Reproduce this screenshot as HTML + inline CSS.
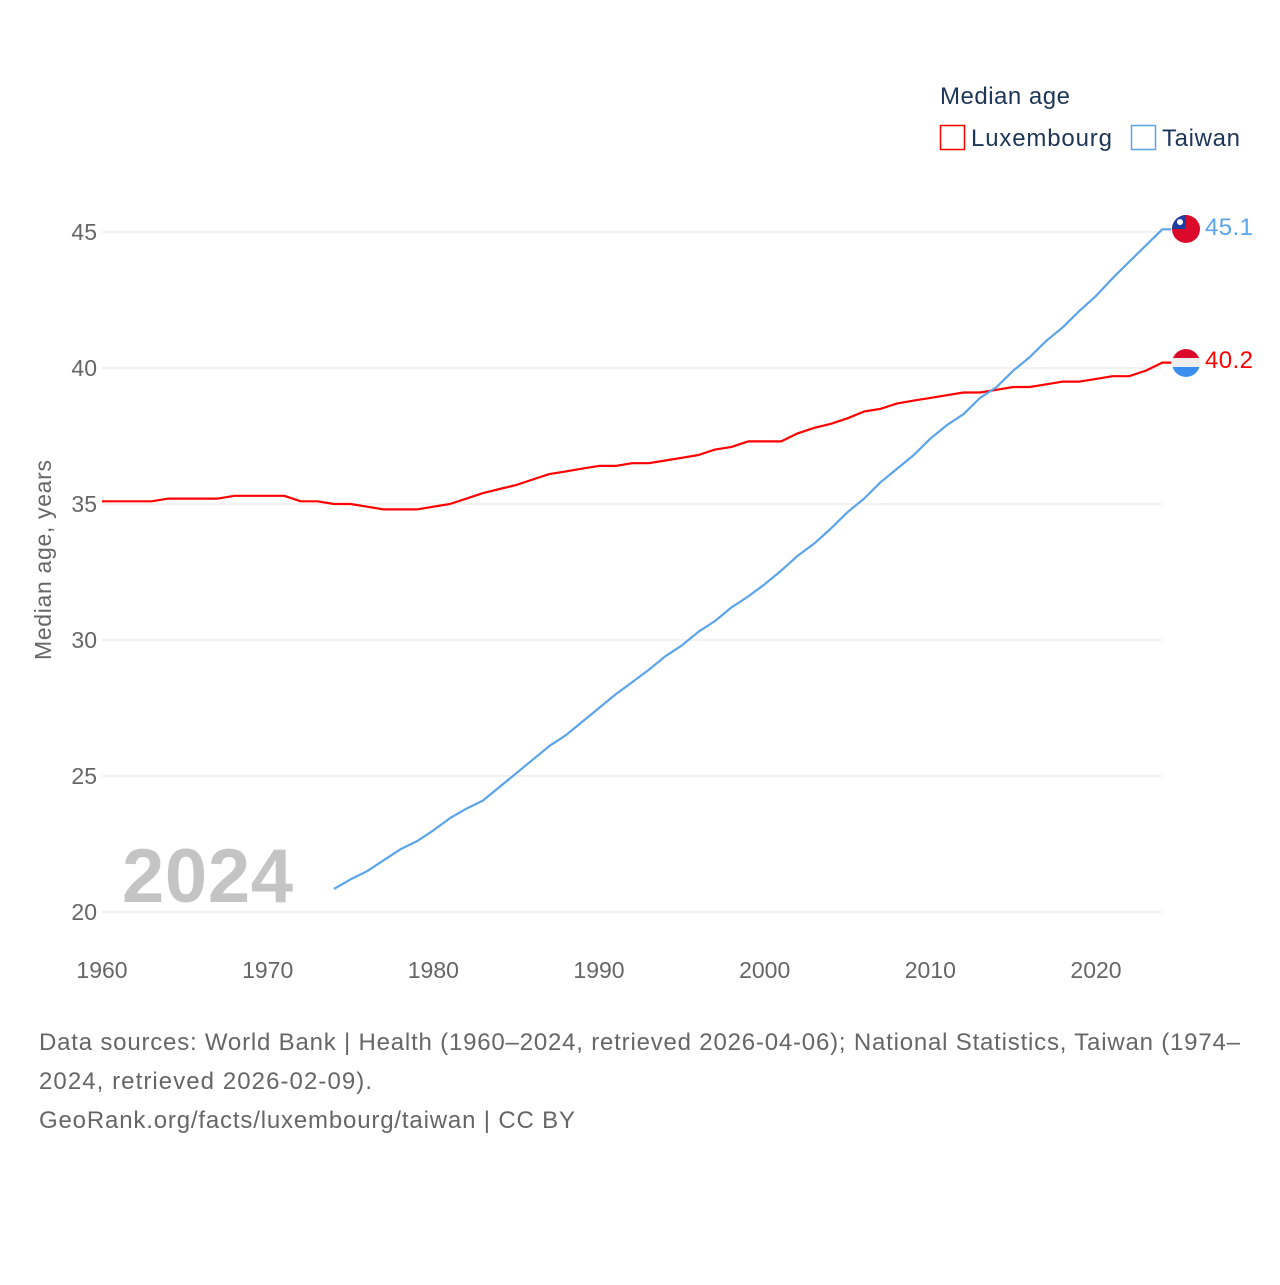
<!DOCTYPE html>
<html><head><meta charset="utf-8"><style>
body{margin:0;background:#fff;font-family:"Liberation Sans",sans-serif}
</style></head><body>
<svg id="chart" width="1280" height="1280" xmlns="http://www.w3.org/2000/svg" style="font-family:'Liberation Sans',sans-serif">
<defs>
<clipPath id="c1"><circle cx="1186" cy="229" r="14"/></clipPath>
<clipPath id="c2"><circle cx="1186" cy="363" r="14"/></clipPath>
</defs>
<g>
<text x="940" y="104" font-size="24" fill="#1d3557" textLength="130">Median age</text>
<g><rect x="940.5" y="125.5" width="24" height="24" fill="none" stroke="#ff0000" stroke-width="1.5"/><text x="971" y="146" font-size="24" fill="#1d3557" textLength="141">Luxembourg</text></g>
<g><rect x="1131.5" y="125.5" width="24" height="24" fill="none" stroke="#5ba4ea" stroke-width="1.5"/><text x="1162" y="146" font-size="24" fill="#1d3557" textLength="78">Taiwan</text></g>
</g>
<g id="grid"></g>
<g id="yticks"></g>
<g id="xticks"></g>
<text transform="translate(51,560) rotate(-90)" text-anchor="middle" font-size="23" fill="#666" textLength="200">Median age, years</text>
<text x="122" y="902" font-size="76" font-weight="bold" fill="#c4c4c4" textLength="171">2024</text>
<g id="series"></g>
<g clip-path="url(#c1)">
<rect x="1172" y="215" width="28" height="28" fill="#dc0a2a"/><rect x="1172" y="215" width="14" height="14" fill="#1e3fa0"/><circle cx="1180" cy="222" r="3" fill="#fff"/></g>
<g clip-path="url(#c2)">
<rect x="1172" y="349" width="28" height="10" fill="#dc0a2a"/><rect x="1172" y="358" width="28" height="10" fill="#eee"/><rect x="1172" y="367" width="28" height="10" fill="#3a8eed"/></g>
<text x="1205" y="235" font-size="24" fill="#5ba4ea" textLength="48">45.1</text>
<text x="1205" y="368" font-size="24" fill="#ff0000" textLength="48">40.2</text>
<g font-size="24" fill="#666">
<text x="39" y="1050" textLength="1201">Data sources: World Bank | Health (1960–2024, retrieved 2026-04-06); National Statistics, Taiwan (1974–</text>
<text x="39" y="1089" textLength="333">2024, retrieved 2026-02-09).</text>
<text x="39" y="1128" textLength="536">GeoRank.org/facts/luxembourg/taiwan | CC BY</text>
</g>
</svg>
<script>
const yTicks=[20,25,30,35,40,45];
const xTicks=[1960,1970,1980,1990,2000,2010,2020];
const luxStart=1960;
const luxValues=[35.1,35.1,35.1,35.1,35.2,35.2,35.2,35.2,35.3,35.3,35.3,35.3,35.1,35.1,35.0,35.0,34.9,34.8,34.8,34.8,34.9,35.0,35.2,35.4,35.55,35.7,35.9,36.1,36.2,36.3,36.4,36.4,36.5,36.5,36.6,36.7,36.8,37.0,37.1,37.3,37.3,37.3,37.6,37.8,37.95,38.15,38.4,38.5,38.7,38.8,38.9,39.0,39.1,39.1,39.2,39.3,39.3,39.4,39.5,39.5,39.6,39.7,39.7,39.9,40.2];
const twStart=1974;
const twValues=[20.85,21.2,21.5,21.9,22.3,22.6,23.0,23.45,23.8,24.1,24.6,25.1,25.6,26.1,26.5,27.0,27.5,28.0,28.45,28.9,29.4,29.8,30.3,30.7,31.2,31.6,32.05,32.55,33.1,33.55,34.1,34.7,35.2,35.8,36.3,36.8,37.4,37.9,38.3,38.9,39.3,39.9,40.4,41.0,41.5,42.1,42.65,43.3,43.9,44.5,45.1];
const X=y=>102+(y-1960)*(1096-102)/60;
const Y=v=>912-(v-20)*(912-232)/25;
const NS="http://www.w3.org/2000/svg";
function mk(tag,attrs,parent){const e=document.createElementNS(NS,tag);for(const k in attrs)e.setAttribute(k,attrs[k]);parent.appendChild(e);return e;}
const grid=document.getElementById('grid'),yt=document.getElementById('yticks'),xt=document.getElementById('xticks'),ser=document.getElementById('series');
yTicks.forEach(v=>{
 const l=mk('line',{x1:102,x2:1162,y1:Y(v),y2:Y(v),stroke:'#e6e6e6','stroke-width':1},grid);
 
 
 const t=mk('text',{x:97,y:Y(v)+8,'text-anchor':'end','font-size':23,fill:'#666'},yt);
 t.textContent=v;
 
 
});
xTicks.forEach(v=>{
 const t=mk('text',{x:X(v),y:978,'text-anchor':'middle','font-size':23,fill:'#666'},xt);
 t.textContent=v;
 
 
});
function line(start,vals,color,name){
 let d=vals.map((v,i)=>(i?'L':'M')+X(start+i).toFixed(1)+','+Y(v).toFixed(1)).join(' ');
 d+=' L'+(X(start+vals.length-1)+9).toFixed(1)+','+Y(vals[vals.length-1]).toFixed(1);
 const p=mk('path',{d:d,fill:'none',stroke:color,'stroke-width':2.2,'stroke-linejoin':'round'},ser);
 
 
}
line(luxStart,luxValues,'#ff0000','line-luxembourg');
line(twStart,twValues,'#5ba4ea','line-taiwan');
</script>
</body></html>
